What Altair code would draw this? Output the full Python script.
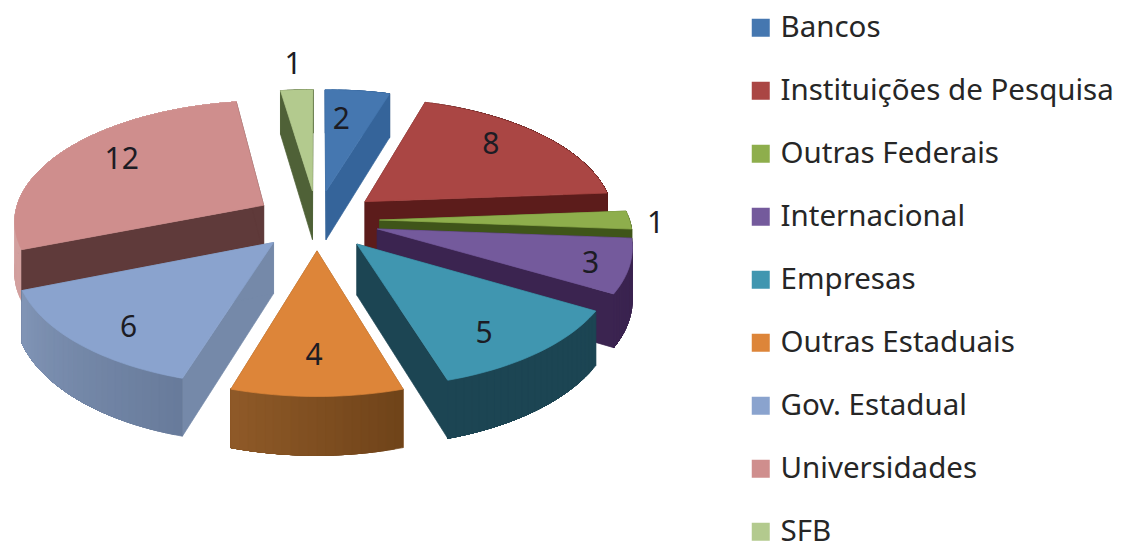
import math
import altair as alt

names = ["Bancos", "Instituições de Pesquisa", "Outras Federais", "Internacional", "Empresas",
         "Outras Estaduais", "Gov. Estadual", "Universidades", "SFB"]
values = [2, 8, 1, 3, 5, 4, 6, 12, 1]
top_colors = ["#4577B0", "#AA4644", "#8EAE4C", "#745A9C", "#4096B0", "#DD8539", "#8AA3CE", "#CF8E8D", "#B3CA8E"]
cut_colors = ["#35649A", "#5C1C1B", "#3F5519", "#3B2450", "#1C4553", "#8F5A28", "#7589A9", "#5F3A3A", "#4F6137"]
wall_light = ["#35649A", "#5C1C1B", "#3F5519", "#3B2450", "#1C4553", "#8F5A28", "#8195B6", "#D3A09F", "#4F6137"]
wall_dark = ["#35649A", "#5C1C1B", "#3F5519", "#3B2450", "#1C4553", "#6F4319", "#687B9B", "#D3A09F", "#4F6137"]
label_nudges = [(-9, 6), (-8, -5), (-4, 4), (26, 7), (-5, 10), (-3, 0), (-2, 12), (9, -3), (-2, -14)]

CX, CY, A, B, K, DEPTH, EXPLODE = 317, 220, 250, 120, 0.12, 50, 0.25
FONT = "Noto Sans"


def proj(u, v, z=0.0):
    s = 1 / (1 + K * v)
    return [CX + A * u * s - 8, CY - B * v * s + DEPTH * s * z - 8]


def mix(c1, c2, t):
    a = [int(c1[i:i + 2], 16) for i in (1, 3, 5)]
    b = [int(c2[i:i + 2], 16) for i in (1, 3, 5)]
    return "#%02x%02x%02x" % tuple(round(p + (q - p) * t) for p, q in zip(a, b))


def feature(ring, fill):
    ring = ring + [ring[0]]
    return {"type": "Feature", "geometry": {"type": "Polygon", "coordinates": [ring]},
            "properties": {"fill": fill}}


total = sum(values)
slices = []
cum = 0
for i, val in enumerate(values):
    a0 = 2 * math.pi * cum / total
    a1 = 2 * math.pi * (cum + val) / total
    cum += val
    slices.append((i, val, a0, a1, (a0 + a1) / 2))

features = []
labels = []
for i, val, a0, a1, mid in sorted(slices, key=lambda s: -math.cos(s[4])):
    ex, ey = EXPLODE * math.sin(mid), EXPLODE * math.cos(mid)
    n = max(4, val * 5)
    angles = [a0 + (a1 - a0) * j / n for j in range(n + 1)]
    arc = [(ex + math.sin(t), ey + math.cos(t)) for t in angles]
    # outer wall: each shade overlaps the rest of the arc, so no seams show
    outer = []
    for j in range(n):
        rest = arc[j:]
        color = mix(wall_dark[i], wall_light[i], (j + 0.5) / n)
        ring = [proj(*p) for p in rest] + [proj(*p, 1) for p in reversed(rest)]
        outer.append(feature(ring, color))
    # radial cut walls
    cuts = [feature([proj(ex, ey), proj(*p), proj(*p, 1), proj(ex, ey, 1)], cut_colors[i])
            for p in (arc[0], arc[-1])]
    # nearer faces are painted last: the outer wall faces the viewer on the front slices only
    features.extend(cuts + outer if math.cos(mid) < 0 else outer + cuts)
    # top face
    features.append(feature([proj(ex, ey)] + [proj(*p) for p in arc], top_colors[i]))
    r = 1.12 if val == 1 else 0.75
    x, y = proj(ex + r * math.sin(mid), ey + r * math.cos(mid))
    labels.append({"x": x + label_nudges[i][0], "y": y + label_nudges[i][1], "label": str(val)})

shapes = alt.Chart(alt.Data(values=features)).mark_geoshape(strokeWidth=0.7).encode(
    color=alt.Color("properties.fill:N", scale=None),
    stroke=alt.Stroke("properties.fill:N", scale=None),
).project(type="identity", scale=1, translate=[0, 0])

text = alt.Chart(alt.Data(values=labels)).mark_text(
    font=FONT, fontSize=30, color="#1c1c24", baseline="middle", align="center"
).encode(
    x=alt.X("x:Q", scale=None), y=alt.Y("y:Q", scale=None), text="label:N"
)

legend = alt.Chart(alt.Data(values=[{"name": n} for n in names])).mark_square(opacity=0).encode(
    x=alt.value(0), y=alt.value(0),
    color=alt.Color(
        "name:N",
        scale=alt.Scale(domain=names, range=top_colors),
        sort=names,
        legend=alt.Legend(
            title=None, orient="none", legendX=738, legendY=5, symbolType="square",
            symbolSize=324, symbolOpacity=1, symbolStrokeWidth=0, labelFont=FONT, labelFontSize=29.5,
            labelColor="#262626", labelLimit=400, labelOffset=5, rowPadding=32, symbolOffset=0,
            padding=0,
        ),
    ),
)

chart = alt.layer(shapes, text, legend).resolve_scale(color="independent", stroke="independent").properties(
    width=1106, height=536, padding=0, autosize=alt.AutoSizeParams(type="none"),
).configure_view(stroke=None)

chart.save("out.html", embed_options={"renderer": "svg", "actions": False})
